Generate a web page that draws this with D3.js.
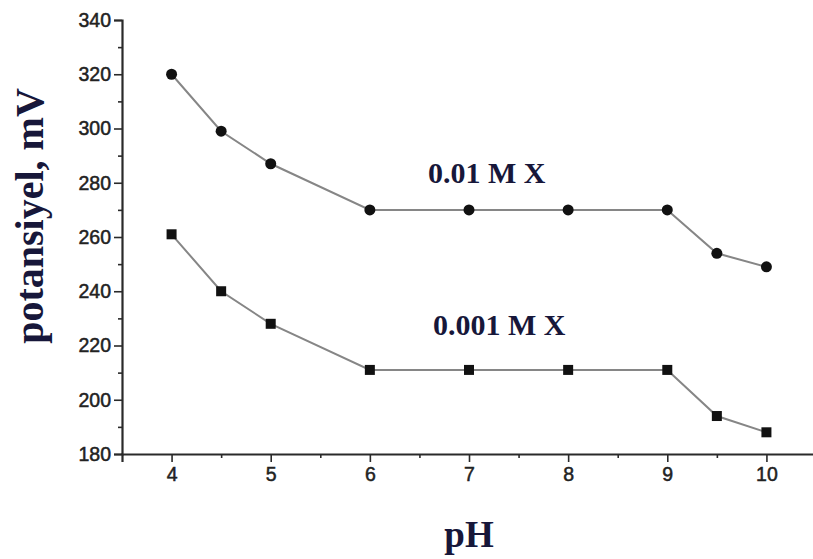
<!DOCTYPE html>
<html>
<head>
<meta charset="utf-8">
<script src="https://cdn.jsdelivr.net/npm/d3@7"></script>
<style>
  html, body { margin: 0; padding: 0; background: #fff; }
  svg { display: block; }
</style>
</head>
<body>
<svg id="chart" width="813" height="559"></svg>
<script>
// pH values and measured potentials for the two concentrations
const phValues = [4, 4.5, 5, 6, 7, 8, 9, 9.5, 10];
const potential001 = [320, 299, 287, 270, 270, 270, 270, 254, 249];   // 0.01 M X
const potential0001 = [261, 240, 228, 211, 211, 211, 211, 194, 188];  // 0.001 M X
const xTickValues = [4, 5, 6, 7, 8, 9, 10];
const yTickValues = [180, 200, 220, 240, 260, 280, 300, 320, 340];
const seriesLabels = ["0.01 M X", "0.001 M X"];

const svg = d3.select("#chart");
const x = d3.scaleLinear().domain([3.5, 10.5]).range([122, 816]);
const y = d3.scaleLinear().domain([180, 340]).range([454, 20]);

const axisColor = "#2a2a2a";
const textColor = "#17173a";

// y axis: major ticks with labels, minor ticks in between
svg.append("g").attr("transform", `translate(${x(3.5)},0)`)
  .call(d3.axisLeft(y).tickValues(yTickValues).tickSize(8).tickPadding(3).tickFormat(d3.format("d")));
svg.append("g").attr("transform", `translate(${x(3.5)},0)`)
  .call(d3.axisLeft(y).tickValues(d3.range(190, 340, 20)).tickSize(4).tickFormat(""))
  .call(g => g.select(".domain").remove());

// x axis
svg.append("g").attr("transform", `translate(0,${y(180)})`)
  .call(d3.axisBottom(x).tickValues(xTickValues).tickSize(8).tickPadding(5).tickFormat(d3.format("d")));
svg.append("g").attr("transform", `translate(0,${y(180)})`)
  .call(d3.axisBottom(x).tickValues([4.5, 5.5, 6.5, 7.5, 8.5, 9.5]).tickSize(4).tickFormat(""))
  .call(g => g.select(".domain").remove());

svg.selectAll(".domain").attr("stroke", axisColor).attr("stroke-width", 2.2);
svg.selectAll(".tick line").attr("stroke", axisColor).attr("stroke-width", 1.6);
svg.selectAll(".tick text")
  .attr("fill", "#222")
  .attr("stroke", "#222").attr("stroke-width", 0.5)
  .style("font-family", "'Liberation Sans', Arial, sans-serif")
  .style("font-size", "19.5px");

const line = d3.line().x(d => x(d[0])).y(d => y(d[1]));
const ds1 = phValues.map((p, i) => [p, potential001[i]]);
const ds2 = phValues.map((p, i) => [p, potential0001[i]]);

svg.append("path").datum(ds1).attr("d", line)
  .attr("fill", "none").attr("stroke", "#868686").attr("stroke-width", 2);
svg.append("path").datum(ds2).attr("d", line)
  .attr("fill", "none").attr("stroke", "#868686").attr("stroke-width", 2);

// circle markers
svg.selectAll("circle.m").data(ds1).enter().append("circle")
  .attr("class", "m")
  .attr("cx", d => x(d[0])).attr("cy", d => y(d[1])).attr("r", 5.5)
  .attr("fill", "#111");

// square markers
const sq = 10;
svg.selectAll("rect.m").data(ds2).enter().append("rect")
  .attr("class", "m")
  .attr("x", d => x(d[0]) - sq / 2).attr("y", d => y(d[1]) - sq / 2)
  .attr("width", sq).attr("height", sq)
  .attr("fill", "#111");

// series labels
const serif = "'Liberation Serif', 'Times New Roman', serif";
svg.append("text").text(seriesLabels[0])
  .attr("x", 428).attr("y", 183)
  .attr("fill", textColor).style("font-family", serif)
  .style("font-weight", "bold").style("font-size", "30px");
svg.append("text").text(seriesLabels[1])
  .attr("x", 433).attr("y", 335)
  .attr("fill", textColor).style("font-family", serif)
  .style("font-weight", "bold").style("font-size", "30px");

// axis titles
svg.append("text").text("pH")
  .attr("x", 469).attr("y", 547).attr("text-anchor", "middle")
  .attr("fill", textColor).style("font-family", serif)
  .style("font-weight", "bold").style("font-size", "37px");
svg.append("text").text("potansiyel, mV")
  .attr("transform", "translate(43,216) rotate(-90)")
  .attr("text-anchor", "middle")
  .attr("fill", textColor).style("font-family", serif)
  .style("font-weight", "bold").style("font-size", "40px");
</script>
</body>
</html>
